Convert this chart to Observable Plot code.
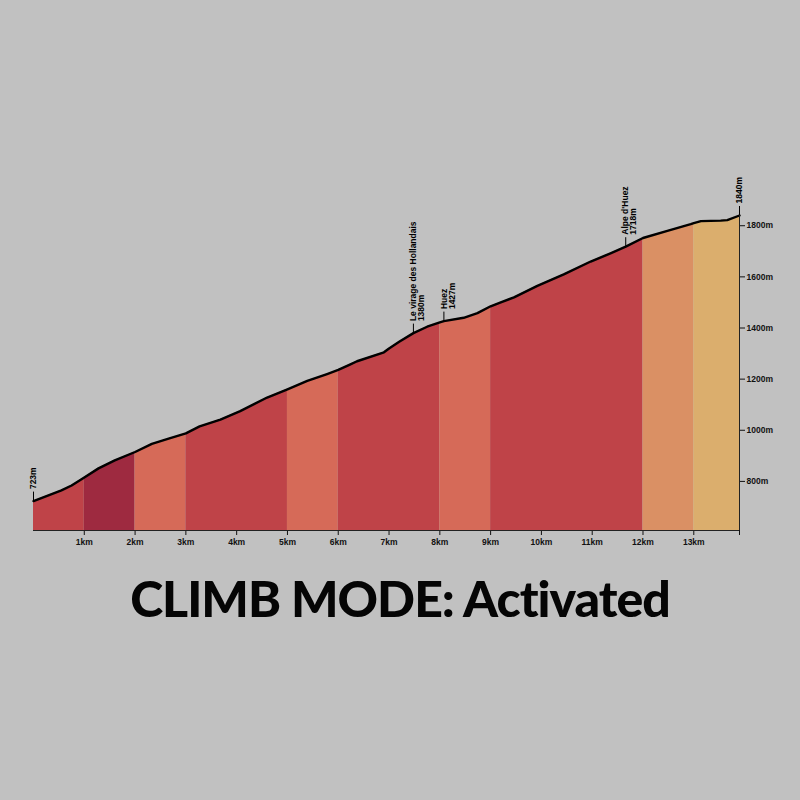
<!DOCTYPE html>
<html>
<head>
<meta charset="utf-8">
<script src="https://cdn.jsdelivr.net/npm/d3@7"></script>
<script src="https://cdn.jsdelivr.net/npm/@observablehq/plot@0.6"></script>
<style>
  html, body { margin: 0; padding: 0; background: #c1c1c1; width: 800px; height: 800px; overflow: hidden; }
  #chart { position: absolute; left: 0; top: 0; }
  #title { position: absolute; left: 0; top: 573px; width: 800px; text-align: center;
           font-family: Lato, "Open Sans", sans-serif; font-weight: 900; font-size: 50px; letter-spacing: -1px; line-height: 1; color: #050505; }
</style>
</head>
<body>
<div id="chart"></div>
<div id="title">CLIMB MODE: Activated</div>
<script>
// Profile (distance in km, elevation in m)
const distKm = [0, 0.55, 0.75, 1.0, 1.28, 1.6, 2.0, 2.33, 2.66, 3.0, 3.27, 3.68, 4.07, 4.6, 5.0, 5.39, 5.78, 6.0, 6.24, 6.37, 6.9, 7.0, 7.2, 7.48, 7.75, 8.0, 8.08, 8.47, 8.74, 9.0, 9.2, 9.46, 9.92, 10.44, 10.97, 11.36, 11.66, 12.0, 12.48, 12.94, 13.0, 13.14, 13.53, 13.66, 13.9];
const elevM  = [723, 765, 784, 815, 851, 882, 915, 947, 967, 988, 1015, 1042, 1075, 1128, 1160, 1193, 1220, 1236, 1258, 1270, 1305, 1320, 1346, 1380, 1405, 1422, 1427, 1440, 1458, 1485, 1500, 1520, 1565, 1610, 1660, 1692, 1718, 1752, 1780, 1806, 1810, 1818, 1820, 1822, 1840];

// Gradient bands
const bandStart = [0, 1, 2, 3, 4, 5, 6, 7, 8, 9, 10, 11, 12, 13];
const bandEnd   = [1, 2, 3, 4, 5, 6, 7, 8, 9, 10, 11, 12, 13, 13.9];
const bandClass = ["8-10%", "10%+", "6-8%", "8-10%", "8-10%", "6-8%", "8-10%", "8-10%", "6-8%", "8-10%", "8-10%", "8-10%", "4-6%", "2-4%"];
const classOrder = ["10%+", "8-10%", "6-8%", "4-6%", "2-4%"];
const classColors = ["#9e2a40", "#bf4348", "#d66a58", "#da9064", "#dbae6d"];

// Annotated points
const poiName = ["", "Le virage des Hollandais", "Huez", "Alpe d'Huez", ""];
const poiKm   = [0, 7.48, 8.08, 11.66, 13.9];
const poiElev = [723, 1380, 1427, 1718, 1840];

// Axis ticks
const xTicks = [1, 2, 3, 4, 5, 6, 7, 8, 9, 10, 11, 12, 13];
const yTicks = [800, 1000, 1200, 1400, 1600, 1800];

const yMin = 608, yMax = 1840, xMax = 13.9;
const W = 800, H = 560, mt = 215, mb = 30, ml = 33, mr = 61;
const mPerPx = (yMax - yMin) / (H - mt - mb);

const profile = distKm.map((d, i) => ({km: d, elev: elevM[i]}));
const elevAt = k => {
  for (let i = 1; i < distKm.length; i++) {
    if (k <= distKm[i]) {
      const t = (k - distKm[i-1]) / (distKm[i] - distKm[i-1]);
      return elevM[i-1] + t * (elevM[i] - elevM[i-1]);
    }
  }
  return elevM[elevM.length - 1];
};
// merge consecutive bands of the same class (avoids seams)
const runs = [];
bandStart.forEach((s, b) => {
  const last = runs[runs.length - 1];
  if (last && last.cls === bandClass[b]) last.end = bandEnd[b];
  else runs.push({start: s, end: bandEnd[b], cls: bandClass[b]});
});
const bandPts = [];
runs.forEach((r, b) => {
  bandPts.push({band: b, cls: r.cls, km: r.start, elev: elevAt(r.start)});
  profile.forEach(p => { if (p.km > r.start && p.km < r.end) bandPts.push({band: b, cls: r.cls, km: p.km, elev: p.elev}); });
  bandPts.push({band: b, cls: r.cls, km: r.end, elev: elevAt(r.end)});
});

const pois = poiName.map((n, i) => ({name: n, km: poiKm[i], elev: poiElev[i]}));
const named = pois.filter(p => p.name);
const unnamed = pois.filter(p => !p.name);
const lblFont = {fontFamily: "'Liberation Sans Narrow', 'Arial Narrow', 'Liberation Sans', sans-serif", fontWeight: "bold", fontSize: 8.5};

const chart = Plot.plot({
  width: W, height: H,
  marginTop: mt, marginBottom: mb, marginLeft: ml, marginRight: mr,
  style: {background: "transparent", color: "#111", fontFamily: "'Liberation Sans Narrow', 'Arial Narrow', 'Liberation Sans', sans-serif", fontWeight: "bold", fontSize: "8.5px"},
  x: {domain: [0, xMax], ticks: [...xTicks, xMax], tickFormat: d => Number.isInteger(d) ? d + "km" : "", tickSize: 5, tickPadding: 3, label: null},
  y: {domain: [yMin, yMax], axis: "right", ticks: yTicks, tickFormat: d => d + "m", tickSize: 5, tickPadding: 2, label: null},
  color: {type: "ordinal", domain: classOrder, range: classColors},
  marks: [
    Plot.areaY(bandPts, {x: "km", y1: yMin, y2: "elev", z: "band", fill: "cls"}),
    Plot.line(profile, {x: "km", y: "elev", stroke: "#000", strokeWidth: 2.4}),
    Plot.ruleY([yMin], {stroke: "#222", strokeWidth: 1}),
    Plot.ruleX([xMax], {y1: yMin, y2: yMax, stroke: "#222", strokeWidth: 1}),
    Plot.ruleX(pois, {x: "km", y1: "elev", y2: d => d.elev + 9 * mPerPx, stroke: "#000", strokeWidth: 1}),
    Plot.text(named, {x: "km", y: "elev", text: "name", rotate: -90, textAnchor: "start", dy: -12, fill: "#000", ...lblFont}),
    Plot.text(named, {x: "km", y: "elev", text: d => d.elev + "m", rotate: -90, textAnchor: "start", dy: -12, dx: 8, fill: "#000", ...lblFont}),
    Plot.text(unnamed, {x: "km", y: "elev", text: d => d.elev + "m", rotate: -90, textAnchor: "start", dy: -12, fill: "#000", ...lblFont})
  ]
});
document.getElementById("chart").appendChild(chart);
</script>
</body>
</html>
